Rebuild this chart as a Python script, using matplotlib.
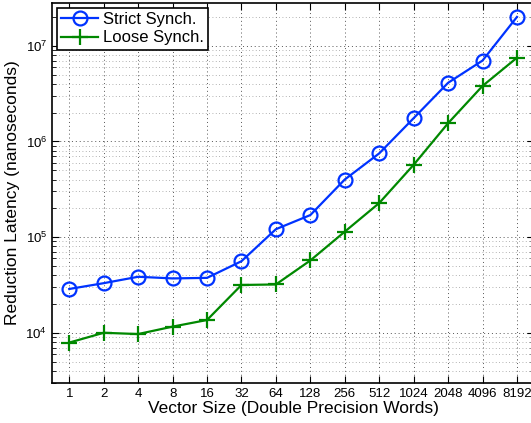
import numpy as np
import matplotlib
matplotlib.use("Agg")
import matplotlib.pyplot as plt
from matplotlib.ticker import LogLocator, NullFormatter

plt.rcParams['font.family'] = ['Liberation Sans', 'DejaVu Sans']

sizes = ['1', '2', '4', '8', '16', '32', '64', '128', '256', '512',
         '1024', '2048', '4096', '8192']
strict = [2.87e4, 3.3e4, 3.85e4, 3.7e4, 3.75e4, 5.6e4, 1.21e5, 1.7e5,
          4.0e5, 7.5e5, 1.75e6, 4.1e6, 7.0e6, 2.0e7]
loose = [7.9e3, 1.0e4, 9.7e3, 1.16e4, 1.36e4, 3.16e4, 3.2e4, 5.7e4,
         1.14e5, 2.27e5, 5.7e5, 1.55e6, 3.8e6, 7.5e6]

fig = plt.figure(figsize=(5.31, 4.23), dpi=100)
ax = fig.add_axes([0.098, 0.095, 0.908, 0.898])

x = np.arange(1, len(sizes) + 1)
ax.plot(x, strict, '-o', color='#0033ff', lw=1.6, ms=10, mfc='none',
        mew=1.6, label='Strict Synch.')
ax.plot(x, loose, '-+', color='#008800', lw=1.6, ms=11, mew=1.6,
        label='Loose Synch.')

ax.set_yscale('log')
ax.set_ylim(3e3, 2.8e7)
ax.set_xlim(0.5, len(sizes) + 0.5)
ax.set_xticks(x)
ax.set_xticklabels(sizes)
ax.yaxis.set_minor_locator(LogLocator(base=10, subs=np.arange(2, 10)))
ax.yaxis.set_minor_formatter(NullFormatter())

ax.grid(True, which='major', axis='both', linestyle=(0, (1, 3)),
        color='#555555', lw=0.7)
ax.grid(True, which='minor', axis='y', linestyle=(0, (1, 3)),
        color='#999999', lw=0.6)

ax.tick_params(which='both', direction='in', top=True, right=True,
               labelsize=9.5)
ax.tick_params(which='major', length=5)
ax.tick_params(which='minor', length=3)
for s in ax.spines.values():
    s.set_linewidth(1.2)

ax.set_xlabel('Vector Size (Double Precision Words)', fontsize=12.5, labelpad=1)
ax.set_ylabel('Reduction Latency (nanoseconds)', fontsize=12.5, labelpad=4)

leg = ax.legend(loc='upper left', fontsize=12, fancybox=False,
                edgecolor='black', framealpha=1, borderaxespad=0.3,
                handlelength=2.2, borderpad=0.25, labelspacing=0.2,
                handletextpad=0.3)
leg.get_frame().set_linewidth(1.2)

fig.savefig('out.png', dpi=100)
